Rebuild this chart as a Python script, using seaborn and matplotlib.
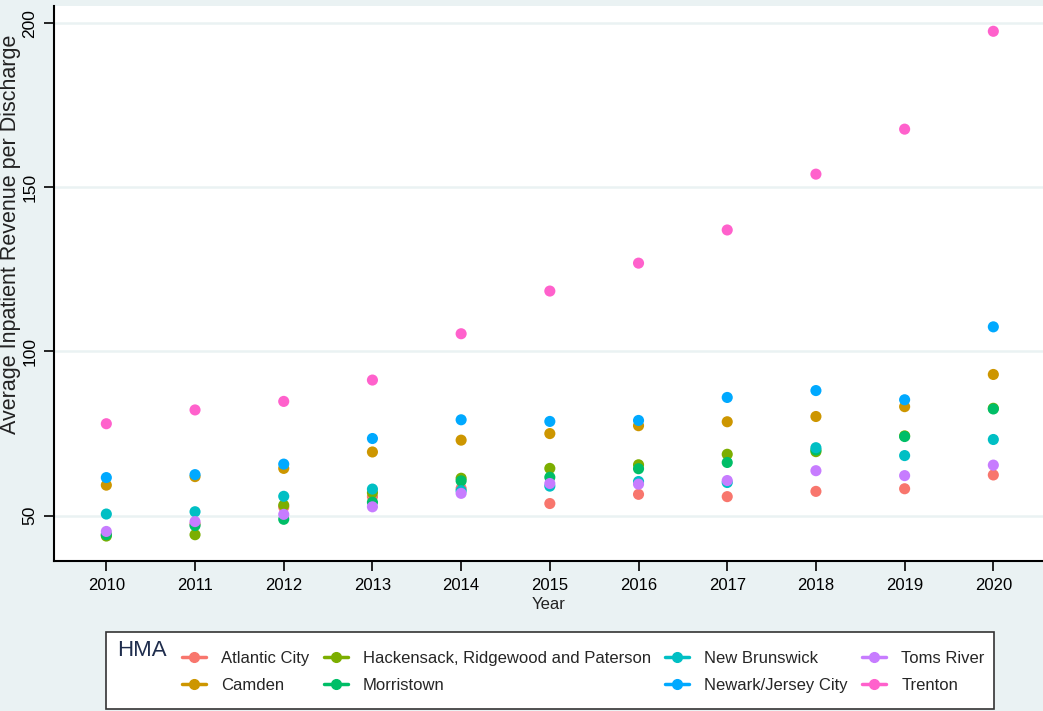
import matplotlib
matplotlib.use("Agg")
import matplotlib.pyplot as plt
from matplotlib.lines import Line2D
from matplotlib.patches import Rectangle
import seaborn as sns
import pandas as pd

# Average inpatient revenue per discharge by hospital market area (HMA)
years = [2010, 2011, 2012, 2013, 2014, 2015, 2016, 2017, 2018, 2019, 2020]
hma_names = [
    "Atlantic City", "Camden", "Hackensack, Ridgewood and Paterson", "Morristown",
    "New Brunswick", "Newark/Jersey City", "Toms River", "Trenton",
]
atlantic_city = [44.3, 47.5, 52.6, 55.8, 58.3, 53.7, 56.5, 55.8, 57.4, 58.2, 62.4]
camden = [59.3, 61.9, 64.4, 69.4, 73.0, 75.0, 77.4, 78.6, 80.2, 83.2, 93.0]
hackensack = [43.8, 44.2, 53.2, 57.0, 61.4, 64.4, 65.5, 68.7, 69.5, 74.3, 82.7]
morristown = [44.2, 47.0, 48.9, 54.1, 60.6, 61.7, 64.3, 66.2, 70.0, 74.1, 82.5]
new_brunswick = [50.5, 51.2, 55.9, 58.1, 57.6, 59.0, 60.4, 60.1, 70.7, 68.3, 73.2]
newark = [61.6, 62.5, 65.7, 73.5, 79.2, 78.7, 79.0, 86.0, 88.1, 85.3, 107.5]
toms_river = [45.2, 48.2, 50.4, 52.7, 56.8, 59.8, 59.6, 60.7, 63.7, 62.2, 65.4]
trenton = [78.0, 82.2, 84.8, 91.3, 105.4, 118.4, 126.9, 137.0, 154.0, 167.7, 197.5]
y_ticks = [50, 100, 150, 200]

series = [atlantic_city, camden, hackensack, morristown,
          new_brunswick, newark, toms_river, trenton]
colors = ["#F8766D", "#CD9600", "#7CAE00", "#00BE67",
          "#00BFC4", "#00A9FF", "#C77CFF", "#FF61CC"]
palette = dict(zip(hma_names, colors))

rows = []
for name, vals in zip(hma_names, series):
    for yr, v in zip(years, vals):
        rows.append({"Year": yr, "Revenue": v, "HMA": name})
df = pd.DataFrame(rows)

bg = "#EAF2F3"
sns.set_theme(style="white")
plt.rcParams["font.family"] = ["Liberation Sans", "DejaVu Sans"]

fig = plt.figure(figsize=(10.43, 7.11), dpi=100, facecolor=bg)
ax = fig.add_axes([54 / 1043, 1 - 561 / 711, 1 - 54 / 1043, (561 - 6) / 711])
ax.set_facecolor("white")

for t in y_ticks:
    ax.axhline(t, color=bg, lw=1.8, zorder=0)

sns.scatterplot(data=df, x="Year", y="Revenue", hue="HMA", hue_order=hma_names,
                palette=palette, s=64, linewidth=0, legend=False, ax=ax, zorder=3)

ax.set_xlim(2009.41, 2020.56)
ax.set_ylim(36.2, 205.2)
ax.set_xticks(years)
ax.set_xticklabels([str(y) for y in years], fontsize=12)
ax.set_yticks(y_ticks)
ax.set_yticklabels([str(t) for t in y_ticks], fontsize=12.5, rotation=90, va="center")
ax.tick_params(axis="both", length=7, width=1.2, color="black", direction="out",
               labelcolor="black", left=True, bottom=True, pad=5)
ax.grid(False)
for side in ["top", "right"]:
    ax.spines[side].set_visible(False)
for side in ["left", "bottom"]:
    ax.spines[side].set_color("black")
    ax.spines[side].set_linewidth(1.5)

ax.set_xlabel("Year", fontsize=12, labelpad=3, color="#222222")
ax.set_ylabel("Average Inpatient Revenue per Discharge", fontsize=15.5, color="#222222")
ax.yaxis.set_label_coords(-33 / 989, (561 - 234) / 555)

# Legend: frame, title on the left, entries in four columns
fig.patches.append(Rectangle((106 / 1043, 1 - 709 / 711), (994 - 106) / 1043, (709 - 632) / 711,
                             transform=fig.transFigure, facecolor="white",
                             edgecolor="#333333", linewidth=1.2, zorder=1))
fig.text(117 / 1043, 1 - 651 / 711, "HMA", fontsize=16, color="#1F2D4D",
         ha="left", va="center", zorder=2)
handles = [Line2D([0], [0], color=c, lw=2.5, marker="o", markersize=7) for c in colors]
leg = fig.legend(handles, hma_names, ncol=4, loc="center left",
                 bbox_to_anchor=(182 / 1043, 1 - 672 / 711), frameon=False,
                 fontsize=12, handlelength=1.45, handletextpad=0.9,
                 columnspacing=0.85, labelspacing=0.75, borderpad=0,
                 borderaxespad=0)
leg.set_zorder(3)

fig.savefig("out.png", dpi=100, facecolor=bg)
